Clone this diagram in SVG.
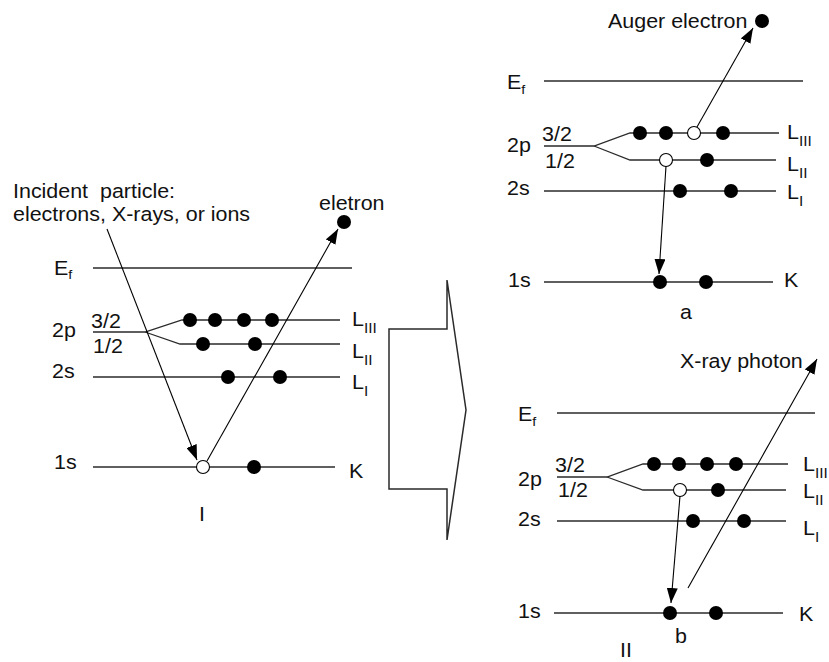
<svg xmlns="http://www.w3.org/2000/svg" width="829" height="662" viewBox="0 0 829 662">
<style>
  .lv { stroke: #2a2a2a; stroke-width: 1.3; fill: none; }
  .ar { stroke: #000; stroke-width: 1.1; fill: none; marker-end: url(#ah); }
  .e { fill: #000; }
  .h { fill: #fff; stroke: #000; stroke-width: 1.1; }
  text { font-family: "Liberation Sans", Arial, sans-serif; font-size: 19.5px; fill: #111; }
  .sub { font-size: 14px; }
  .fs { font-size: 13px; }
</style>
<defs>
  <marker id="ah" markerUnits="userSpaceOnUse" markerWidth="15" markerHeight="11" refX="15" refY="5.5" orient="auto">
    <path d="M0,0 L15,5.5 L0,11 z" fill="#000"/>
  </marker>
</defs>
<rect width="829" height="662" fill="#fff"/>

<!-- Panel I (left) -->
<g id="panel-I">
  <text transform="translate(13 198) scale(1.1 1)" xml:space="preserve">Incident  particle:</text>
  <text transform="translate(13 221) scale(1.1 1)">electrons, X-rays, or ions</text>
  <text transform="translate(319 210) scale(1.1 1)">eletron</text>
  <line class="lv" x1="93" y1="268" x2="352" y2="268"/>
  <polyline class="lv" points="93,332 145,332 182,320 340,320"/>
  <polyline class="lv" points="145,332 180,344 340,344"/>
  <line class="lv" x1="93" y1="377" x2="340" y2="377"/>
  <line class="lv" x1="93" y1="467" x2="335" y2="467"/>
  <text transform="translate(54 275) scale(1.1 1)">E<tspan class="fs" dy="4">f</tspan></text>
  <text transform="translate(91 328) scale(1.1 1)">3/2</text>
  <text transform="translate(93 353) scale(1.1 1)">1/2</text>
  <text transform="translate(52 337) scale(1.1 1)">2p</text>
  <text transform="translate(52 378) scale(1.1 1)">2s</text>
  <text transform="translate(54 469) scale(1.1 1)">1s</text>
  <text transform="translate(352 326) scale(1.1 1)">L<tspan class="sub" dy="7">III</tspan></text>
  <text transform="translate(352 358) scale(1.1 1)">L<tspan class="sub" dy="7">II</tspan></text>
  <text transform="translate(352 389) scale(1.1 1)">L<tspan class="sub" dy="7">I</tspan></text>
  <text transform="translate(349 478) scale(1.1 1)">K</text>
  <text transform="translate(199 521) scale(1.1 1)">I</text>
  <circle class="e" cx="190" cy="320" r="7"/>
  <circle class="e" cx="215" cy="320" r="7"/>
  <circle class="e" cx="244" cy="320" r="7"/>
  <circle class="e" cx="272" cy="320" r="7"/>
  <circle class="e" cx="203" cy="344" r="7"/>
  <circle class="e" cx="255" cy="344" r="7"/>
  <circle class="e" cx="228" cy="377" r="7"/>
  <circle class="e" cx="280" cy="377" r="7"/>
  <circle class="h" cx="203" cy="467" r="6.5"/>
  <circle class="e" cx="254" cy="467" r="7"/>
  <circle class="e" cx="344" cy="222" r="7"/>
</g>

<!-- Big transition arrow -->
<g id="big-arrow">
  <polygon points="389,329 447,329 447,280 466,410 447,540 447,489 389,489" fill="none" stroke="#2a2a2a" stroke-width="1.5"/>
</g>

<!-- Panel a (top right) -->
<g id="panel-a">
  <text transform="translate(608 28) scale(1.1 1)">Auger electron</text>
  <line class="lv" x1="544" y1="81" x2="803" y2="81"/>
  <polyline class="lv" points="544,146 594,146 630,133 779,133"/>
  <polyline class="lv" points="594,146 630,160 776,160"/>
  <line class="lv" x1="544" y1="191" x2="776" y2="191"/>
  <line class="lv" x1="544" y1="282" x2="773" y2="282"/>
  <text transform="translate(507 89) scale(1.1 1)">E<tspan class="fs" dy="5">f</tspan></text>
  <text transform="translate(542 141) scale(1.1 1)">3/2</text>
  <text transform="translate(545 168) scale(1.1 1)">1/2</text>
  <text transform="translate(507 152) scale(1.1 1)">2p</text>
  <text transform="translate(507 195) scale(1.1 1)">2s</text>
  <text transform="translate(508 287) scale(1.1 1)">1s</text>
  <text transform="translate(787 139) scale(1.1 1)">L<tspan class="sub" dy="7">III</tspan></text>
  <text transform="translate(787 171) scale(1.1 1)">L<tspan class="sub" dy="7">II</tspan></text>
  <text transform="translate(787 199) scale(1.1 1)">L<tspan class="sub" dy="7">I</tspan></text>
  <text transform="translate(784 287) scale(1.1 1)">K</text>
  <text transform="translate(680 319) scale(1.1 1)">a</text>
  <circle class="e" cx="640" cy="133" r="7"/>
  <circle class="e" cx="666" cy="133" r="7"/>
  <circle class="h" cx="694" cy="133" r="6.5"/>
  <circle class="e" cx="723" cy="133" r="7"/>
  <circle class="h" cx="666" cy="160" r="6.5"/>
  <circle class="e" cx="707" cy="160" r="7"/>
  <circle class="e" cx="680" cy="191" r="7"/>
  <circle class="e" cx="731" cy="191" r="7"/>
  <circle class="e" cx="660" cy="282" r="7"/>
  <circle class="e" cx="706" cy="282" r="7"/>
  <circle class="e" cx="762" cy="21" r="7"/>
</g>

<!-- Panel b (bottom right) -->
<g id="panel-b">
  <text transform="translate(680 368) scale(1.1 1)">X-ray photon</text>
  <line class="lv" x1="557" y1="413" x2="815" y2="413"/>
  <polyline class="lv" points="557,477 607,477 643,464 788,464"/>
  <polyline class="lv" points="607,477 643,490 786,490"/>
  <line class="lv" x1="557" y1="521" x2="786" y2="521"/>
  <line class="lv" x1="554" y1="613" x2="783" y2="613"/>
  <text transform="translate(518 421) scale(1.1 1)">E<tspan class="fs" dy="5">f</tspan></text>
  <text transform="translate(555 472) scale(1.1 1)">3/2</text>
  <text transform="translate(558 497) scale(1.1 1)">1/2</text>
  <text transform="translate(518 486) scale(1.1 1)">2p</text>
  <text transform="translate(518 526) scale(1.1 1)">2s</text>
  <text transform="translate(518 618) scale(1.1 1)">1s</text>
  <text transform="translate(803 471) scale(1.1 1)">L<tspan class="sub" dy="7">III</tspan></text>
  <text transform="translate(803 498) scale(1.1 1)">L<tspan class="sub" dy="7">II</tspan></text>
  <text transform="translate(803 535) scale(1.1 1)">L<tspan class="sub" dy="7">I</tspan></text>
  <text transform="translate(799 621) scale(1.1 1)">K</text>
  <text transform="translate(675 643) scale(1.1 1)">b</text>
  <text transform="translate(620 657) scale(1.1 1)">II</text>
  <circle class="e" cx="654" cy="464" r="7"/>
  <circle class="e" cx="679" cy="464" r="7"/>
  <circle class="e" cx="707" cy="464" r="7"/>
  <circle class="e" cx="736" cy="464" r="7"/>
  <circle class="h" cx="680" cy="490" r="6.5"/>
  <circle class="e" cx="718" cy="490" r="7"/>
  <circle class="e" cx="693" cy="521" r="7"/>
  <circle class="e" cx="744" cy="521" r="7"/>
  <circle class="e" cx="670" cy="613" r="7"/>
  <circle class="e" cx="716" cy="613" r="7"/>
</g>

<!-- Connectors -->
<g id="connectors">
  <line class="ar" x1="107" y1="229" x2="197" y2="460"/>
  <line class="ar" x1="207" y1="461" x2="338" y2="229"/>
  <line class="ar" x1="697" y1="127" x2="753" y2="28"/>
  <line class="ar" x1="666" y1="166" x2="659" y2="274"/>
  <line class="ar" x1="680" y1="496" x2="671" y2="603"/>
  <line class="ar" x1="688" y1="588" x2="817" y2="359"/>
</g>
</svg>
